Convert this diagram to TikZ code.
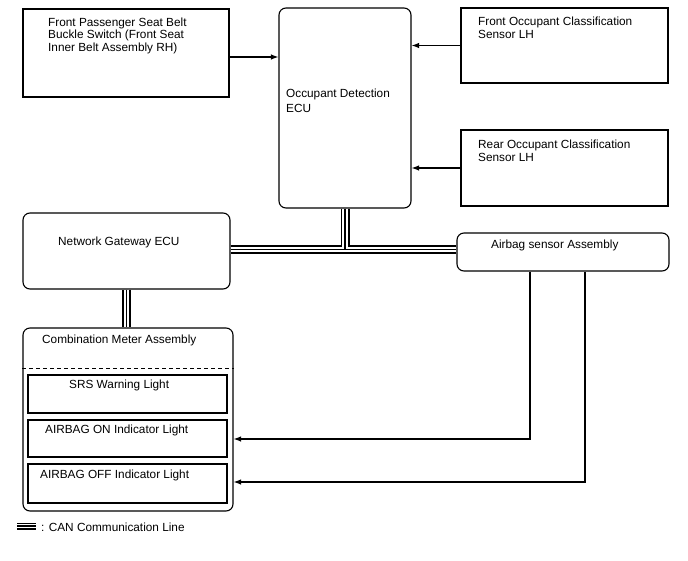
\documentclass[tikz,border=0pt]{standalone}
\usepackage{fontspec}
\setmainfont{Liberation Sans}
\usetikzlibrary{arrows.meta,fit}
\begin{document}
\begin{tikzpicture}[x=1pt,y=-1pt,
  box/.style={draw, line width=1.1pt, inner sep=0pt},
  rbox/.style={box, rounded corners=7pt},
  lbl/.style={anchor=north west, inner sep=0pt, align=left, font=\fontsize{11.8}{12.7}\selectfont},
  slbl/.style={anchor=base west, inner sep=0pt, font=\fontsize{11.8}{12.7}\selectfont},
  conn/.style={line width=1.2pt, -{Latex[length=7.5pt,width=5.5pt]}},
  can/.style={line width=9pt, postaction={draw, white, line width=5.4pt}, postaction={draw, black, line width=1.8pt}},
  canlegend/.style={line width=7pt, postaction={draw, white, line width=4.2pt}, postaction={draw, black, line width=1.4pt}},
  sep/.style={line width=1pt, dash pattern=on 4pt off 3pt}
]
\useasboundingbox (0,0) rectangle (688,560);

% boxes
\node[box,  fit={(23,9)(229,97)}]    (fp)    {};
\node[rbox, fit={(279,8)(411,208)}]  (ecu)   {};
\node[box,  fit={(461,8)(668,83)}]   (foc)   {};
\node[box,  fit={(461,130)(668,206)}] (roc)  {};
\node[rbox, fit={(23,213)(230,289)}] (gw)    {};
\node[rbox, fit={(457,233)(669,271)}] (ab)   {};
\node[rbox, fit={(23,328)(233,511)}] (meter) {};
\node[box,  fit={(28,375)(227,413)}] (srs)   {};
\node[box,  fit={(28,420)(227,457)}] (on)    {};
\node[box,  fit={(28,464)(227,503)}] (off)   {};

% texts
\node[lbl] (fpT) at (48,17.4) {Front Passenger Seat Belt\\Buckle Switch (Front Seat\\Inner Belt Assembly RH)};
\node[lbl, font=\fontsize{11.8}{15}\selectfont] (ecuT) at (286,88.4) {Occupant Detection\\ECU};
\node[lbl] (focT) at (478,17) {Front Occupant Classification\\Sensor LH};
\node[lbl] (rocT) at (478,140) {Rear Occupant Classification\\Sensor LH};
\node[slbl] (gwT) at (58,245.7) {Network Gateway ECU};
\node[slbl] (abT) at (491,248) {Airbag sensor Assembly};
\node[slbl] (meterT) at (42,343) {Combination Meter Assembly};
\node[slbl] (srsT) at (69,388) {SRS Warning Light};
\node[slbl] (onT) at (45,433) {AIRBAG ON Indicator Light};
\node[slbl] (offT) at (40,478) {AIRBAG OFF Indicator Light};
\node[slbl] (lgT) at (41,531) {: CAN Communication Line};

% dashed separator in combination meter
\draw[sep] (meter.west |- 0,368) -- (meter.east |- 0,368);

% CAN lines
\coordinate (bus) at (ecu.south |- 0,249.5);
\draw[can] (gw.east |- bus) -- (ab.west |- bus) (ecu.south) -- (bus);
\draw[can] (gw.south) -- (gw.south |- meter.north);

% connectors
\draw[conn] (fp.east |- 0,57) -- (ecu.west |- 0,57);
\draw[conn] (foc.west) -- (foc.west -| ecu.east);
\draw[conn] (roc.west) -- (roc.west -| ecu.east);
\draw[conn] (ab.south -| 530,0) |- (meter.east |- 0,439);
\draw[conn] (ab.south -| 585,0) |- (meter.east |- 0,482);

% legend
\coordinate (lg1) at (17,526);
\coordinate (lg2) at (36,526);
\draw[canlegend] (lg1) -- (lg2);
\end{tikzpicture}
\end{document}
